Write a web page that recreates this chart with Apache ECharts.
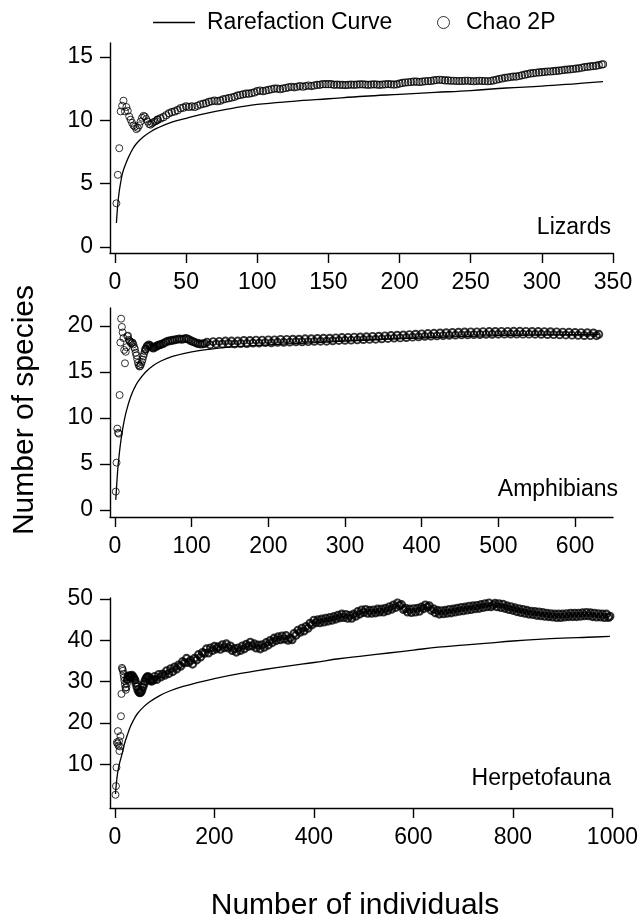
<!DOCTYPE html>
<html><head><meta charset="utf-8">
<script src="https://cdn.jsdelivr.net/npm/echarts@6/dist/echarts.min.js"></script>
<style>html,body{margin:0;padding:0;background:#fff}#c{width:641px;height:923px}</style>
</head><body><div id="c"></div>
<script>
// ---------- tick labels ----------
const lizXTicks = [0, 50, 100, 150, 200, 250, 300, 350];
const lizYTicks = [0, 5, 10, 15];
const amphXTicks = [0, 100, 200, 300, 400, 500, 600];
const amphYTicks = [0, 5, 10, 15, 20];
const herpXTicks = [0, 200, 400, 600, 800, 1000];
const herpYTicks = [10, 20, 30, 40, 50];
const panelNames = ['Lizards', 'Amphibians', 'Herpetofauna'];
const seriesNames = ['Rarefaction Curve', 'Chao 2P'];

// ---------- Lizards ----------
const lizardsRare = [[1,1.9],[2,3.4],[3,4.4],[4,5.1],[5,5.7],[6,6.1],[8,6.7],[10,7.2],[12,7.65],[15,8.15],[20,8.7],[25,9.1],[30,9.4],[40,9.85],[50,10.15],[60,10.45],[80,10.9],[100,11.25],[125,11.5],[150,11.7],[175,11.9],[200,12.05],[225,12.2],[250,12.35],[275,12.55],[300,12.7],[325,12.9],[343,13.05]];
const lizardsChao = [[1,3.45],[2,5.7],[3,7.8],[4,10.7],[5,11.15],[6,11.55],[7,10.7],[8,11.05],[9,10.75],[10,10.3],[11,10.05],[12,9.8],[13,9.6],[14,9.5],[15,9.3],[16,9.4],[17,9.6],[18,9.9],[19,10.2],[20,10.35],[21,10.3],[22,10.1],[23,9.9],[24,9.7],[25,9.65],[26,9.75],[27,9.85],[28,9.9],[29,9.95],[30,10.05],[32,10.15],[34,10.25],[36,10.4],[38,10.55],[40,10.65],[42,10.7],[44,10.8],[46,10.95],[48,11.0],[50,11.1],[52,11.05],[54,11.1],[56,11.05],[58,11.15],[60,11.25],[62,11.3],[64,11.35],[66,11.45],[68,11.5],[70,11.55],[72,11.5],[74,11.55],[76,11.65],[78,11.7],[80,11.75],[82,11.8],[84,11.85],[86,11.95],[88,12.0],[90,12.05],[92,12.1],[94,12.1],[96,12.15],[98,12.2],[100,12.3],[102,12.35],[104,12.3],[106,12.35],[108,12.4],[110,12.45],[112,12.5],[114,12.5],[116,12.45],[118,12.5],[120,12.55],[122,12.6],[124,12.65],[126,12.6],[128,12.65],[130,12.7],[132,12.65],[134,12.7],[136,12.75],[138,12.7],[140,12.75],[142,12.8],[144,12.8],[146,12.85],[148,12.85],[150,12.85],[152,12.85],[154,12.8],[156,12.82],[158,12.8],[160,12.8],[162,12.78],[164,12.8],[166,12.82],[168,12.8],[170,12.82],[172,12.84],[174,12.84],[176,12.82],[178,12.8],[180,12.82],[182,12.84],[184,12.82],[186,12.8],[188,12.82],[190,12.84],[192,12.86],[194,12.84],[196,12.82],[198,12.84],[200,12.9],[202,12.95],[204,12.98],[206,13.0],[208,13.02],[210,13.05],[212,13.05],[214,13.02],[216,13.05],[218,13.08],[220,13.1],[222,13.1],[224,13.15],[226,13.18],[228,13.2],[230,13.18],[232,13.15],[234,13.15],[236,13.12],[238,13.12],[240,13.1],[242,13.1],[244,13.1],[246,13.12],[248,13.12],[250,13.1],[252,13.08],[254,13.1],[256,13.12],[258,13.1],[260,13.1],[262,13.08],[264,13.1],[266,13.15],[268,13.2],[270,13.25],[272,13.3],[274,13.35],[276,13.38],[278,13.42],[280,13.45],[282,13.45],[284,13.5],[286,13.55],[288,13.6],[290,13.65],[292,13.7],[294,13.72],[296,13.75],[298,13.78],[300,13.8],[302,13.82],[304,13.85],[306,13.85],[308,13.88],[310,13.9],[312,13.92],[314,13.95],[316,13.98],[318,14.0],[320,14.02],[322,14.05],[324,14.08],[326,14.1],[328,14.15],[330,14.2],[332,14.22],[334,14.25],[336,14.28],[338,14.3],[340,14.35],[342,14.4],[343,14.42]];

// ---------- Amphibians ----------
const amphRare = [[1,1.1],[2,2.4],[3,3.7],[4,4.8],[5,5.6],[6,6.4],[8,7.7],[10,8.8],[12,9.7],[15,10.8],[20,12.2],[25,13.2],[30,13.95],[40,15.0],[50,15.7],[60,16.2],[75,16.7],[100,17.2],[125,17.5],[150,17.7],[200,17.95],[250,18.15],[300,18.35],[350,18.55],[400,18.7],[450,18.85],[500,18.95],[550,19.02],[600,19.06],[631,19.08]];
const amphChao = [[1,2.0],[2,5.15],[3,8.85],[4,8.4],[5,8.3],[6,12.5],[7,18.2],[8,20.8],[9,19.9],[10,19.3],[11,18.7],[12,17.4],[13,15.95],[14,17.2],[15,17.7],[16,18.9],[17,18.95],[18,18.5],[19,18.4],[20,18.3],[21,18.1],[22,18.2],[23,18.2],[24,18.0],[25,17.7],[26,17.5],[27,17.1],[28,16.8],[29,16.4],[30,16.0],[31,15.75],[32,15.6],[33,15.65],[34,15.85],[35,16.1],[36,16.35],[37,16.7],[38,17.0],[39,17.25],[40,17.5],[42,17.8],[44,17.95],[46,17.85],[48,17.7],[50,17.6],[52,17.7],[54,17.8],[56,17.9],[58,17.95],[60,18.0],[63,18.1],[66,18.25],[69,18.35],[72,18.4],[75,18.45],[78,18.5],[81,18.55],[84,18.6],[87,18.55],[90,18.6],[93,18.65],[96,18.55],[99,18.4],[102,18.3],[105,18.2],[108,18.1],[111,18.05],[114,18.05],[117,18.1],[120,18.25],[124,17.97],[128,18.3],[132,18.05],[136,18.33],[140,18.05],[144,18.37],[148,18.1],[152,18.37],[156,18.05],[160,18.37],[164,18.1],[168,18.43],[172,18.1],[176,18.43],[180,18.15],[184,18.47],[188,18.15],[192,18.47],[196,18.2],[200,18.5],[204,18.18],[208,18.5],[212,18.23],[216,18.55],[220,18.23],[224,18.55],[228,18.25],[232,18.57],[236,18.29],[240,18.57],[244,18.29],[248,18.61],[252,18.3],[256,18.62],[260,18.33],[264,18.65],[268,18.35],[272,18.67],[276,18.35],[280,18.67],[284,18.4],[288,18.71],[292,18.43],[296,18.75],[300,18.45],[304,18.77],[308,18.47],[312,18.79],[316,18.5],[320,18.81],[324,18.53],[328,18.83],[332,18.55],[336,18.87],[340,18.57],[344,18.89],[348,18.61],[352,18.93],[356,18.65],[360,18.97],[364,18.69],[368,19.0],[372,18.71],[376,19.03],[380,18.75],[384,19.07],[388,18.79],[392,19.11],[396,18.83],[400,19.15],[404,18.87],[408,19.18],[412,18.9],[416,19.21],[420,18.93],[424,19.25],[428,18.96],[432,19.27],[436,18.99],[440,19.3],[444,19.01],[448,19.33],[452,19.04],[456,19.35],[460,19.05],[464,19.36],[468,19.07],[472,19.37],[476,19.08],[480,19.39],[484,19.09],[488,19.4],[492,19.1],[496,19.41],[500,19.11],[504,19.42],[508,19.12],[512,19.42],[516,19.13],[520,19.43],[524,19.13],[528,19.43],[532,19.12],[536,19.42],[540,19.12],[544,19.41],[548,19.11],[552,19.4],[556,19.1],[560,19.39],[564,19.08],[568,19.38],[572,19.07],[576,19.36],[580,19.05],[584,19.34],[588,19.03],[592,19.32],[596,19.01],[600,19.3],[604,18.99],[608,19.28],[612,18.97],[616,19.27],[620,18.96],[624,19.25],[628,18.95],[631,19.1]];

// ---------- Herpetofauna ----------
const herpRare = [[1,2.8],[2,4.3],[3,5.6],[5,7.6],[7,9.0],[10,10.6],[15,12.8],[20,15.3],[25,17.1],[30,18.8],[37,20.6],[45,22.2],[57,23.8],[70,25.1],[90,26.6],[110,27.7],[137,28.8],[165,29.7],[200,30.7],[250,31.9],[300,32.9],[350,33.8],[400,34.6],[450,35.5],[500,36.2],[550,36.9],[600,37.6],[650,38.3],[700,38.8],[750,39.3],[800,39.8],[850,40.2],[900,40.5],[950,40.7],[995,40.9]];
const herpChao = [[1,2.6],[2,4.7],[3,9.2],[4,15.3],[5,15.0],[6,18.0],[7,14.5],[8,15.6],[9,13.2],[10,14.3],[11,16.8],[12,21.6],[13,27.0],[14,33.3],[15,33.0],[16,32.6],[17,31.8],[18,31.0],[19,30.2],[20,29.3],[21,28.5],[22,28.0],[23,28.6],[24,29.5],[25,30.5],[26,31.2],[28,31.4],[30,31.0],[32,31.3],[34,31.5],[36,31.2],[38,30.8],[40,30.4],[42,29.6],[44,28.8],[46,28.0],[48,27.5],[50,27.3],[52,27.4],[54,27.9],[56,28.6],[58,29.3],[60,30.0],[62,30.6],[64,31.0],[66,31.2],[68,31.0],[70,30.5],[72,30.2],[74,30.1],[76,30.3],[78,30.5],[80,31.2],[84,30.5],[88,31.7],[92,31.1],[96,31.8],[100,31.5],[104,32.6],[108,31.9],[112,33.1],[116,32.4],[120,33.5],[124,33.0],[128,34.0],[132,33.7],[136,34.8],[140,34.5],[144,35.6],[148,34.6],[152,35.1],[156,34.2],[160,35.6],[164,35.2],[168,36.5],[172,35.9],[176,37.0],[180,36.8],[184,37.9],[188,36.9],[192,38.1],[196,37.5],[200,38.5],[204,37.9],[208,38.4],[212,37.8],[216,38.9],[220,38.2],[224,39.1],[228,38.1],[232,38.6],[236,37.5],[240,38.0],[244,37.1],[248,38.1],[252,37.5],[256,38.6],[260,37.9],[264,39.0],[268,38.5],[272,39.5],[276,38.6],[280,39.1],[284,38.1],[288,38.8],[292,37.9],[296,38.9],[300,38.3],[304,39.4],[308,38.8],[312,39.9],[316,39.4],[320,40.5],[324,39.9],[328,40.8],[332,40.1],[336,41.0],[340,40.3],[344,41.1],[348,40.0],[352,40.5],[356,40.1],[360,41.6],[364,41.2],[368,42.4],[372,41.9],[376,42.9],[380,42.2],[384,43.3],[388,42.9],[392,44.1],[396,43.7],[400,44.8],[404,44.2],[408,44.9],[412,44.2],[416,45.1],[420,44.4],[424,45.3],[428,44.6],[432,45.5],[436,44.8],[440,45.7],[444,45.1],[448,46.0],[452,45.4],[456,46.3],[460,45.5],[464,46.2],[468,45.3],[472,46.0],[476,45.3],[480,46.3],[484,45.8],[488,46.9],[492,46.3],[496,47.3],[500,46.7],[504,47.4],[508,46.5],[512,47.2],[516,46.5],[520,47.3],[524,46.6],[528,47.5],[532,46.8],[536,47.5],[540,46.8],[544,47.7],[548,47.1],[552,48.1],[556,47.5],[560,48.5],[564,47.9],[568,49.0],[572,48.4],[576,48.6],[580,47.4],[584,47.7],[588,46.8],[592,47.5],[596,46.7],[600,47.6],[604,46.8],[608,47.7],[612,47.0],[616,48.0],[620,47.6],[624,48.5],[628,48.0],[632,48.3],[636,47.2],[640,47.6],[644,46.6],[648,47.2],[652,46.3],[656,47.1],[660,46.4],[664,47.2],[668,46.5],[672,47.4],[676,46.6],[680,47.5],[684,46.8],[688,47.7],[692,47.0],[696,47.9],[700,47.1],[704,48.0],[708,47.3],[712,48.2],[716,47.4],[720,48.3],[724,47.6],[728,48.4],[732,47.7],[736,48.6],[740,47.9],[744,48.8],[748,48.1],[752,49.0],[756,48.1],[760,48.5],[764,48.9],[768,48.1],[772,48.8],[776,47.9],[780,48.7],[784,47.7],[788,48.3],[792,47.4],[796,48.1],[800,47.2],[804,47.8],[808,46.9],[812,47.6],[816,46.7],[820,47.4],[824,46.5],[828,47.2],[832,46.3],[836,47.0],[840,46.2],[844,46.9],[848,46.0],[852,46.8],[856,45.9],[860,46.7],[864,45.8],[868,46.5],[872,45.7],[876,46.4],[880,45.6],[884,46.3],[888,45.5],[892,46.3],[896,45.5],[900,46.3],[904,45.6],[908,46.4],[912,45.7],[916,46.5],[920,45.7],[924,46.5],[928,45.7],[932,46.5],[936,45.8],[940,46.6],[944,45.9],[948,46.7],[952,45.9],[956,46.6],[960,45.7],[964,46.5],[968,45.6],[972,46.4],[976,45.6],[980,46.3],[984,45.5],[988,46.3],[992,45.5],[995,45.8]];

// ---------- build ----------
const FONT = '"Liberation Sans", Arial, sans-serif';
const BLACK = '#000';
// points before index `dense` are the sparse early estimates (thin rings); the rest form the dense band
const panels = [
  {rare: lizardsRare, chao: lizardsChao, xT: lizXTicks, yT: lizYTicks, xMin: -3.5, xMax: 350, yMin: -0.47, yMax: 16.1, top: 43, h: 210, bw: 1.15, dense: 30},
  {rare: amphRare, chao: amphChao, xT: amphXTicks, yT: amphYTicks, xMin: -6.5, xMax: 649.5, yMin: -0.76, yMax: 21.96, top: 308, h: 209, bw: 1.9, dense: 40},
  {rare: herpRare, chao: herpChao, xT: herpXTicks, yT: herpYTicks, xMin: -10, xMax: 1000, yMin: -0.6, yMax: 50.2, top: 598, h: 210, bw: 2.1, dense: 25}
];
const axisLine = {show: true, onZero: false, lineStyle: {color: BLACK, width: 1.4}};
const plain = v => String(v);
const grids = [], xAxes = [], yAxes = [], series = [];
panels.forEach((p, i) => {
  grids.push({left: 110, right: 28, top: p.top, height: p.h, containLabel: false});
  xAxes.push({type: 'value', gridIndex: i, min: p.xMin, max: p.xMax, axisLine,
    axisTick: {show: true, length: 10, customValues: p.xT, lineStyle: {color: BLACK, width: 1.4}},
    axisLabel: {customValues: p.xT, formatter: plain, margin: 18, fontSize: 23, color: BLACK, fontFamily: FONT},
    splitLine: {show: false}});
  yAxes.push({type: 'value', gridIndex: i, min: p.yMin, max: p.yMax, axisLine,
    axisTick: {show: true, length: 10, customValues: p.yT, lineStyle: {color: BLACK, width: 1.4}},
    axisLabel: {customValues: p.yT, formatter: plain, margin: 17, fontSize: 23, color: BLACK, fontFamily: FONT},
    splitLine: {show: false}});
  series.push({name: seriesNames[0], type: 'line', xAxisIndex: i, yAxisIndex: i, data: p.rare,
    smooth: 0.4, symbol: 'none', lineStyle: {color: BLACK, width: 1.3}, itemStyle: {color: BLACK}, z: 3});
  series.push({name: seriesNames[1], type: 'scatter', xAxisIndex: i, yAxisIndex: i, data: p.chao.slice(0, p.dense),
    symbol: 'circle', symbolSize: 7,
    itemStyle: {color: 'rgba(255,255,255,0)', borderColor: BLACK, borderWidth: 1}, z: 2});
  series.push({name: seriesNames[1], type: 'scatter', xAxisIndex: i, yAxisIndex: i, data: p.chao.slice(p.dense - 1),
    symbol: 'circle', symbolSize: 7,
    itemStyle: {color: 'rgba(255,255,255,0)', borderColor: BLACK, borderWidth: p.bw}, z: 2});
});

const chart = echarts.init(document.getElementById('c'), null, {renderer: 'canvas'});
chart.setOption({
  animation: false,
  backgroundColor: '#fff',
  textStyle: {fontFamily: FONT},
  grid: grids, xAxis: xAxes, yAxis: yAxes, series,
  legend: [
    {data: [{name: seriesNames[0], icon: 'rect'}], left: 153, top: 11, padding: 0, itemWidth: 42, itemHeight: 1.4,
     itemStyle: {color: BLACK},
     textStyle: {fontSize: 23, color: BLACK, fontFamily: FONT, padding: [0, 0, 0, 7]}, selectedMode: false},
    {data: [{name: seriesNames[1], icon: 'circle'}], left: 437, top: 11, padding: 0, itemWidth: 35, itemHeight: 12,
     itemStyle: {color: 'rgba(255,255,255,0)', borderColor: BLACK, borderWidth: 1},
     textStyle: {fontSize: 23, color: BLACK, fontFamily: FONT}, selectedMode: false}
  ],
  graphic: [
    {type: 'text', right: 30, top: 216, style: {text: panelNames[0], font: '23px ' + FONT, fill: BLACK}},
    {type: 'text', right: 23, top: 478, style: {text: panelNames[1], font: '23px ' + FONT, fill: BLACK}},
    {type: 'text', right: 30, top: 767, style: {text: panelNames[2], font: '23px ' + FONT, fill: BLACK}},
    {type: 'text', x: 25, y: 410, rotation: Math.PI / 2,
     style: {text: 'Number of species', font: '30px ' + FONT, fill: BLACK, align: 'center', verticalAlign: 'middle'}},
    {type: 'text', x: 355, y: 906,
     style: {text: 'Number of individuals', font: '30px ' + FONT, fill: BLACK, align: 'center', verticalAlign: 'middle'}}
  ]
});
</script>
</body></html>
